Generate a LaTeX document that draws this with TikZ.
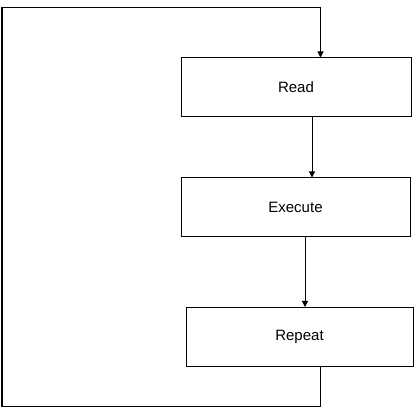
\documentclass[tikz,border=0pt]{standalone}
\usepackage{fontspec}
\setmainfont{Liberation Sans}
\usetikzlibrary{arrows.meta}
\begin{document}
\begin{tikzpicture}[x=1pt,y=-1pt,
  box/.style={draw,line width=1pt,minimum width=#1,minimum height=59pt,inner sep=0pt,font=\fontsize{15}{17}\selectfont},
  arr/.style={line width=1pt,-{Triangle[length=6pt,width=6pt]}},
  ln/.style={line width=1pt}]
\useasboundingbox (0,0) rectangle (416,409);
\node[box=230pt] (read) at (296,87.5) {Read};
\node[box=229pt] (exec) at (295.5,207.5) {Execute};
\node[box=227pt] (rep) at (299.5,337) {Repeat};
\coordinate (c1) at (312,0);
\coordinate (c2) at (305,0);
\coordinate (c3) at (320.5,0);
\coordinate (bl) at (2,406.5);
\coordinate (tl) at (2,7.5);
\draw[arr] (read.south -| c1) -- (exec.north -| c1);
\draw[arr] (exec.south -| c2) -- (rep.north -| c2);
\draw[ln] (rep.south -| c3) |- (bl) -- (tl);
\draw[arr] (tl) -| (read.north -| c3);
\end{tikzpicture}
\end{document}
